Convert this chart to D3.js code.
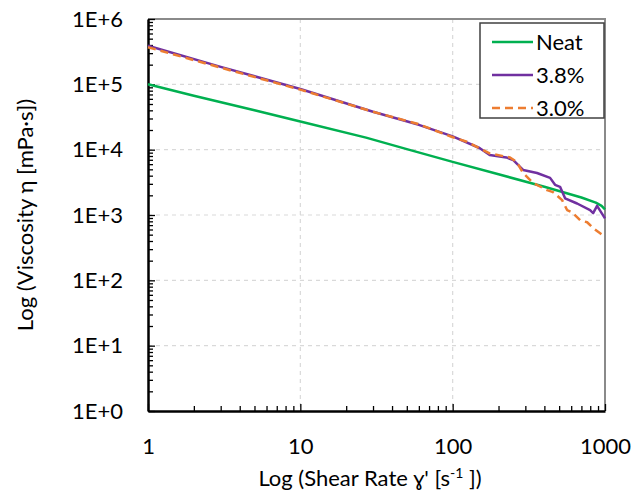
<!DOCTYPE html>
<html>
<head>
<meta charset="utf-8">
<script src="https://cdn.jsdelivr.net/npm/d3@7"></script>
<style>
	body { margin: 0; background: #fff; }
	text { font-family: "Lato", "Open Sans", sans-serif; fill: #000; }
</style>
</head>
<body>
<svg id="chart" width="644" height="498"></svg>
<script>

// shear rate [1/s] and viscosity [mPa.s]
const neat_rate = [1, 2, 5, 10, 27, 50, 100, 200, 400, 700, 870, 950, 1000];
const neat_visc = [1.0e5, 6.7e4, 4.0e4, 2.7e4, 1.53e4, 1.02e4, 6.5e3, 4.2e3, 2.7e3, 1.85e3, 1.55e3, 1.38e3, 1.22e3];

const p38_rate = [1, 3, 10, 30, 60, 100, 150, 175, 225, 250, 290, 358, 436, 470, 507, 547, 656, 798, 836, 887, 1000];
const p38_visc = [3.9e5, 1.85e5, 8.5e4, 3.8e4, 2.4e4, 1.6e4, 1.06e4, 8.3e3, 7.6e3, 6.9e3, 4.9e3, 4.4e3, 3.7e3, 2.9e3, 2.7e3, 1.8e3, 1.5e3, 1.19e3, 1.07e3, 1.38e3, 890];

const p30_rate = [1, 3, 10, 30, 60, 100, 124, 176, 238, 263, 290, 337, 417, 456, 523, 564, 608, 687, 763, 836, 929, 1000];
const p30_visc = [3.7e5, 1.8e5, 8.3e4, 3.8e4, 2.45e4, 1.55e4, 1.32e4, 8.7e3, 7.6e3, 6.5e3, 4.4e3, 3.1e3, 2.4e3, 2.24e3, 1.69e3, 1.19e3, 1.1e3, 830, 775, 630, 525, 460];

const series_names = ["Neat", "3.8%", "3.0%"];
const series_colors = ["#00b050", "#7030a0", "#ed7d31"];

const x_ticks = [1, 10, 100, 1000];
const y_ticks = [1, 10, 100, 1e3, 1e4, 1e5, 1e6];
const y_tick_labels = ["1E+0", "1E+1", "1E+2", "1E+3", "1E+4", "1E+5", "1E+6"];

const svg = d3.select("#chart");
const margin = {top: 19, right: 39, bottom: 87, left: 148};
const width = 644 - margin.left - margin.right;
const height = 498 - margin.top - margin.bottom;

const x = d3.scaleLog().domain([1, 1000]).range([0, width]);
const y = d3.scaleLog().domain([1, 1e6]).range([height, 0]);

const g = svg.append("g")
	.attr("transform", "translate(" + margin.left + "," + margin.top + ")");

// dashed grid
g.append("g").selectAll("line")
	.data(y_ticks.slice(1, -1))
	.enter().append("line")
		.attr("x1", 0).attr("x2", width)
		.attr("y1", d => y(d)).attr("y2", d => y(d))
		.style("stroke", "#d9d9d9").style("stroke-width", 1.2).style("stroke-dasharray", "4,4");

g.append("g").selectAll("line")
	.data(x_ticks.slice(1, -1))
	.enter().append("line")
		.attr("y1", 0).attr("y2", height)
		.attr("x1", d => x(d)).attr("x2", d => x(d))
		.style("stroke", "#d9d9d9").style("stroke-width", 1.2).style("stroke-dasharray", "4,4");

// plot border (top and right)
g.append("path")
	.attr("d", "M0,0H" + width + "V" + height)
	.style("fill", "none").style("stroke", "#8a8a8a").style("stroke-width", 2);

// minor ticks, inside
const x_minor = x.ticks().filter(d => !x_ticks.includes(d));
const y_minor = y.ticks().filter(d => !y_ticks.includes(d));

g.append("g")
	.attr("transform", "translate(0," + height + ")")
	.call(d3.axisTop(x).tickValues(x_minor).tickSize(5).tickFormat(""))
	.call(a => a.select(".domain").remove());
g.append("g")
	.attr("transform", "translate(0," + height + ")")
	.call(d3.axisTop(x).tickValues(x_ticks).tickSize(7).tickFormat(""))
	.call(a => a.select(".domain").remove());
g.append("g")
	.call(d3.axisRight(y).tickValues(y_minor).tickSize(5).tickFormat(""))
	.call(a => a.select(".domain").remove());
g.append("g")
	.call(d3.axisRight(y).tickValues(y_ticks).tickSize(7).tickFormat(""))
	.call(a => a.select(".domain").remove());
g.selectAll(".tick line").style("stroke", "#000").style("stroke-width", 1.3);

// tick labels
const x_axis = g.append("g")
	.attr("transform", "translate(0," + height + ")")
	.call(d3.axisBottom(x).tickValues(x_ticks).tickSize(0).tickPadding(27).tickFormat(d3.format("d")));
const y_axis = g.append("g")
	.call(d3.axisLeft(y).tickValues(y_ticks).tickSize(0).tickPadding(25)
		.tickFormat((d, i) => y_tick_labels[i]));
[x_axis, y_axis].forEach(a => {
	a.select(".domain").style("stroke", "#000").style("stroke-width", 2.5);
	a.selectAll("text").style("font-size", "22px").style("font-family", "Lato");
});

// curves
const line = d3.line()
	.x(d => x(d[0]))
	.y(d => y(d[1]));

const series = [
	d3.zip(neat_rate, neat_visc),
	d3.zip(p38_rate, p38_visc),
	d3.zip(p30_rate, p30_visc)
];

g.selectAll(".curve")
	.data(series)
	.enter().append("path")
		.classed("curve", true)
		.attr("d", line)
		.style("fill", "none")
		.style("stroke", (d, i) => series_colors[i])
		.style("stroke-width", 2.5)
		.style("stroke-linejoin", "round")
		.style("stroke-dasharray", (d, i) => i == 2 ? "8,5" : null);

// axis titles
svg.append("text")
	.attr("x", 370).attr("y", 486)
	.attr("text-anchor", "middle")
	.style("font-size", "22px")
	.html("Log (Shear Rate ɣ' [s<tspan dy='-8' font-size='14px'>-1</tspan><tspan dy='8'> ])</tspan>");

svg.append("text")
	.attr("transform", "translate(33," + (margin.top + height / 2) + ") rotate(-90)")
	.attr("text-anchor", "middle")
	.style("font-size", "22px")
	.text("Log (Viscosity η [mPa·s])");

// legend
const legend = svg.append("g").attr("transform", "translate(480,23)");
legend.append("rect")
	.attr("width", 124).attr("height", 95)
	.style("fill", "#fff").style("stroke", "#404040").style("stroke-width", 1.5);

const items = legend.selectAll(".item")
	.data(series_names)
	.enter().append("g")
		.attr("transform", (d, i) => "translate(0," + (19 + i * 33) + ")");
items.append("line")
	.attr("x1", 12).attr("x2", 53)
	.style("stroke", (d, i) => series_colors[i])
	.style("stroke-width", 2.5)
	.style("stroke-dasharray", (d, i) => i == 2 ? "8,5" : null);
items.append("text")
	.attr("x", 56).attr("dy", "0.36em")
	.style("font-size", "22px")
	.text(d => d);

</script>
</body>
</html>
